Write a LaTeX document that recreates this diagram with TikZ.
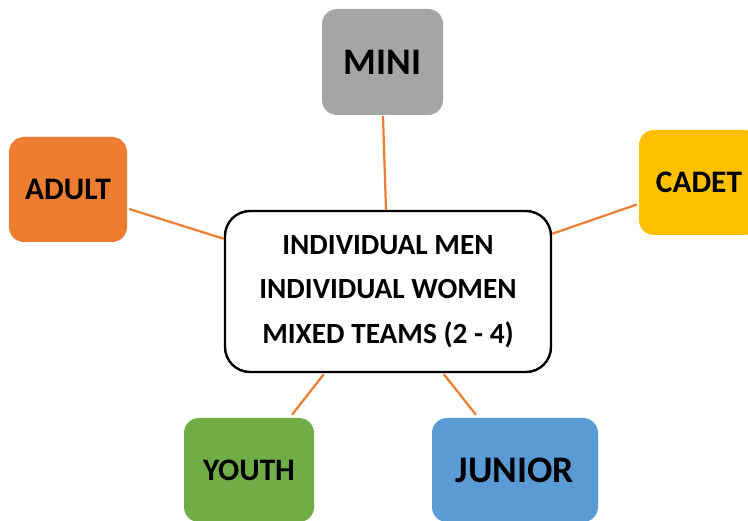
\documentclass[tikz,border=0pt]{standalone}
\usepackage{fontspec}
\setmainfont{Carlito}
\definecolor{cgray}{HTML}{A5A5A5}
\definecolor{corange}{HTML}{ED7D31}
\definecolor{cyellow}{HTML}{FFC000}
\definecolor{cgreen}{HTML}{70AD47}
\definecolor{cblue}{HTML}{5B9BD5}
\begin{document}
\begin{tikzpicture}[x=1pt,y=-1pt,
  cat/.style={rectangle, rounded corners=15pt, inner sep=0pt, font=\bfseries, text=black},
  link/.style={draw=corange, line width=2.2pt},
  hub/.style={rectangle, rounded corners=25pt, draw=black, line width=2.4pt, fill=white, inner sep=0pt, align=center}]
\fill[white] (0,0) rectangle (748,521);
\useasboundingbox (0,0) rectangle (748,521);
\node[cat, fill=cgray, minimum width=121pt, minimum height=106pt, font=\bfseries\fontsize{37.5}{40}\selectfont] (mini) at (382.5,62) {MINI};
\node[cat, fill=corange, minimum width=118pt, minimum height=105pt, font=\bfseries\fontsize{31.3}{34}\selectfont] (adult) at (68,189.5) {ADULT};
\node[cat, fill=cyellow, minimum width=120pt, minimum height=105pt, font=\bfseries\fontsize{31.3}{34}\selectfont] (cadet) at (699,182.5) {CADET};
\node[cat, fill=cgreen, minimum width=130pt, minimum height=104pt, font=\bfseries\fontsize{31.3}{34}\selectfont] (youth) at (249,470) {YOUTH};
\node[cat, fill=cblue, minimum width=166pt, minimum height=104pt, font=\bfseries\fontsize{37.5}{40}\selectfont] (junior) at (515,470) {JUNIOR};
\node[hub, minimum width=326pt, minimum height=161pt, font=\bfseries\fontsize{29.3}{44.5}\selectfont] (hub) at (388,291.5) {INDIVIDUAL MEN\\INDIVIDUAL WOMEN\\MIXED TEAMS (2 - 4)};
\draw[link] ([shift={(0.5,1)}]mini.south) -- ([shift={(-2,0)}]hub.north);
\draw[link] ([shift={(2,19.5)}]adult.east) -- ([shift={(0,29)}]hub.north west);
\draw[link] ([shift={(-2,22)}]cadet.west) -- ([shift={(0,24)}]hub.north east);
\draw[link] ([shift={(100,1)}]hub.south west) -- ([shift={(43,-3)}]youth.north);
\draw[link] ([shift={(220,1)}]hub.south west) -- ([shift={(-39,-3)}]junior.north);
\end{tikzpicture}
\end{document}
